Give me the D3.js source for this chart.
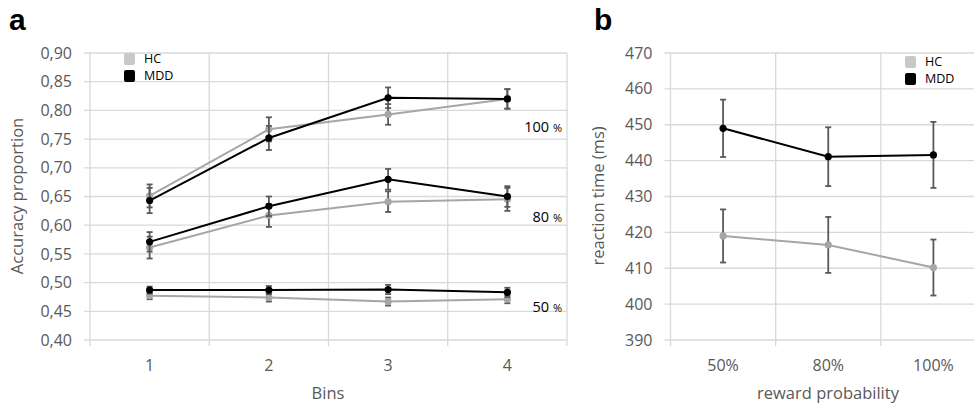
<!DOCTYPE html>
<meta charset="utf-8">
<script src="https://d3js.org/d3.v7.min.js"></script>
<style>
  body { margin: 0; background: #fff; }
  text { font-family: "Open Sans", sans-serif; fill: #595959; }
</style>
<div id="chart"></div>
<script>

// panel a: accuracy per bin, three reward levels
var bins = ["1", "2", "3", "4"];
var accTicks = [0.40, 0.45, 0.50, 0.55, 0.60, 0.65, 0.70, 0.75, 0.80, 0.85, 0.90];
var levelLabels = ["100", "80", "50"];

var hc100 = [0.651, 0.767, 0.793, 0.820];
var hc100Err = [0.020, 0.021, 0.018, 0.017];
var mdd100 = [0.643, 0.752, 0.822, 0.820];
var mdd100Err = [0.022, 0.021, 0.018, 0.017];

var hc80 = [0.561, 0.617, 0.641, 0.645];
var hc80Err = [0.019, 0.020, 0.018, 0.020];
var mdd80 = [0.571, 0.633, 0.680, 0.650];
var mdd80Err = [0.017, 0.017, 0.018, 0.018];

var hc50 = [0.477, 0.474, 0.467, 0.471];
var hc50Err = [0.006, 0.007, 0.007, 0.007];
var mdd50 = [0.487, 0.487, 0.488, 0.483];
var mdd50Err = [0.006, 0.007, 0.008, 0.008];

// panel b: reaction time per reward probability
var rewards = ["50%", "80%", "100%"];
var rtTicks = [390, 400, 410, 420, 430, 440, 450, 460, 470];
var hcRt = [419.0, 416.5, 410.2];
var hcRtErr = [7.4, 7.8, 7.8];
var mddRt = [449.0, 441.1, 441.6];
var mddRtErr = [8.0, 8.2, 9.2];

var groups = ["HC", "MDD"];
var hcColor = "#a6a6a6", mddColor = "#000000", errColor = "#595959", gridColor = "#d9d9d9";

var svg = d3.select("#chart").append("svg")
  .attr("width", 974)
  .attr("height", 406);

// draws one panel frame: grid, bottom axis with Excel-like ticks, y labels
function frame(x, y, ticks, fmt) {
  var g = svg.append("g");
  var x0 = x.range()[0], x1 = x.range()[1];
  var y0 = y.range()[0], y1 = y.range()[1];

  g.selectAll(".hgrid").data(ticks).enter().append("line")
    .attr("x1", x0 - 6).attr("x2", x1)
    .attr("y1", function(d) { return y(d); })
    .attr("y2", function(d) { return y(d); })
    .attr("stroke", gridColor).attr("stroke-width", 1.3);

  var edges = x.domain().map(function(d) { return x(d); }).concat([x1]);
  g.selectAll(".vgrid").data(edges).enter().append("line")
    .attr("x1", function(d) { return d; }).attr("x2", function(d) { return d; })
    .attr("y1", y1).attr("y2", y0 + 6)
    .attr("stroke", gridColor).attr("stroke-width", 1.3);

  g.selectAll(".ylab").data(ticks).enter().append("text")
    .attr("x", x0 - 18)
    .attr("y", function(d) { return y(d); })
    .attr("dy", "0.35em")
    .attr("text-anchor", "end")
    .style("font-size", "16px")
    .text(fmt);

  g.selectAll(".xlab").data(x.domain()).enter().append("text")
    .attr("x", function(d) { return x(d) + x.bandwidth() / 2; })
    .attr("y", 371)
    .attr("text-anchor", "middle")
    .style("font-size", "16px")
    .text(function(d) { return d; });
}

function series(x, y, vals, errs, color, width) {
  var g = svg.append("g");
  var cx = function(i) { return x(x.domain()[i]) + x.bandwidth() / 2; };
  var pts = vals.map(function(v, i) { return [cx(i), y(v)]; });

  g.append("path")
    .attr("d", d3.line()(pts))
    .attr("fill", "none")
    .attr("stroke", color)
    .attr("stroke-width", width);

  vals.forEach(function(v, i) {
    var top = y(v + errs[i]), bot = y(v - errs[i]), xx = cx(i);
    g.append("line").attr("x1", xx).attr("x2", xx).attr("y1", top).attr("y2", bot)
      .attr("stroke", errColor).attr("stroke-width", 1.8);
    [top, bot].forEach(function(yy) {
      g.append("line").attr("x1", xx - 3).attr("x2", xx + 3).attr("y1", yy).attr("y2", yy)
        .attr("stroke", errColor).attr("stroke-width", 1.8);
    });
  });

  g.selectAll("circle").data(pts).enter().append("circle")
    .attr("cx", function(d) { return d[0]; })
    .attr("cy", function(d) { return d[1]; })
    .attr("r", 3.6)
    .attr("fill", color);
}

function legend(x, y) {
  var g = svg.append("g").attr("transform", "translate(" + x + "," + y + ")");
  groups.forEach(function(name, i) {
    g.append("rect")
      .attr("x", 0).attr("y", i * 17 - 6)
      .attr("width", 11).attr("height", 12).attr("rx", 2)
      .attr("fill", i === 0 ? "#c8c8c8" : "#000");
    g.append("text")
      .attr("x", 20).attr("y", i * 17).attr("dy", "0.35em")
      .style("font-size", "12.5px")
      .style("fill", "#000")
      .text(name);
  });
}

// ---- panel a
var xa = d3.scaleBand().domain(bins).range([90, 567]);
var ya = d3.scaleLinear().domain([0.40, 0.90]).range([340, 53]);
frame(xa, ya, accTicks, function(d) { return d3.format(".2f")(d).replace(".", ","); });

series(xa, ya, hc50, hc50Err, hcColor, 2);
series(xa, ya, mdd50, mdd50Err, mddColor, 2);
series(xa, ya, hc80, hc80Err, hcColor, 2);
series(xa, ya, mdd80, mdd80Err, mddColor, 2);
series(xa, ya, hc100, hc100Err, hcColor, 2);
series(xa, ya, mdd100, mdd100Err, mddColor, 2);

// vertical placement of the level labels, in accuracy units
var levelY = [0.771, 0.614, 0.457];
levelLabels.forEach(function(l, i) {
  var t = svg.append("text")
    .attr("x", 562).attr("y", ya(levelY[i]))
    .attr("dy", "0.35em")
    .attr("text-anchor", "end")
    .style("font-size", "14.5px").style("fill", "#000");
  t.append("tspan").text(l + " ");
  t.append("tspan").style("font-size", "11px").text("%");
});

legend(124, 59);

svg.append("text")
  .attr("transform", "translate(23,196) rotate(-90)")
  .attr("text-anchor", "middle")
  .style("font-size", "16.5px")
  .text("Accuracy proportion");

svg.append("text")
  .attr("x", 328).attr("y", 399)
  .attr("text-anchor", "middle")
  .style("font-size", "16.5px")
  .text("Bins");

// ---- panel b
var xb = d3.scaleBand().domain(rewards).range([670.5, 986]);
var yb = d3.scaleLinear().domain([390, 470]).range([340, 53]);
frame(xb, yb, rtTicks, function(d) { return d; });

series(xb, yb, hcRt, hcRtErr, hcColor, 2);
series(xb, yb, mddRt, mddRtErr, mddColor, 2);

legend(905, 62);

svg.append("text")
  .attr("transform", "translate(604,196) rotate(-90)")
  .attr("text-anchor", "middle")
  .style("font-size", "16.5px")
  .text("reaction time (ms)");

svg.append("text")
  .attr("x", 828).attr("y", 399)
  .attr("text-anchor", "middle")
  .style("font-size", "16.5px")
  .text("reward probability");

// panel letters
[["a", 9], ["b", 594]].forEach(function(p) {
  svg.append("text")
    .attr("x", p[1]).attr("y", 30)
    .style("font-family", "'Liberation Sans', Arial, sans-serif")
    .style("font-weight", "bold")
    .style("font-size", "30px")
    .style("fill", "#000")
    .text(p[0]);
});

</script>
